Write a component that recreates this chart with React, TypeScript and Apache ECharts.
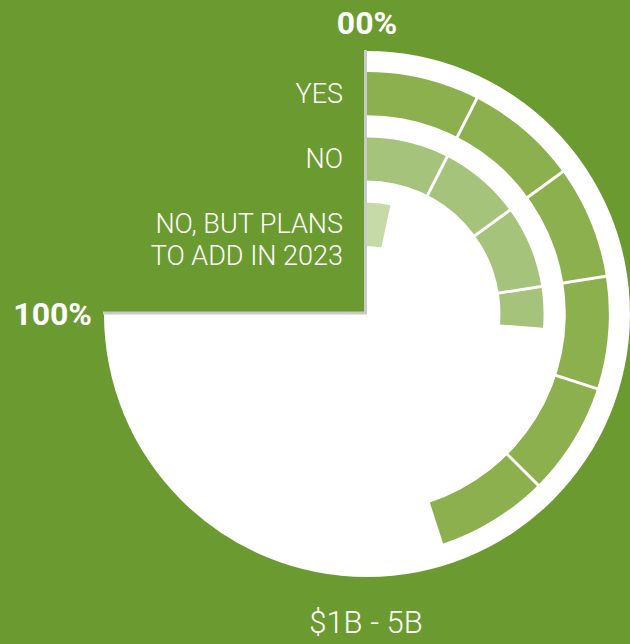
import React, { useEffect, useRef } from "react";
import * as echarts from "echarts";

// Categories (inner to outer)
const categories = ["NO, BUT PLANS\nTO ADD IN 2023", "NO", "YES"];
const values = [4.5, 35, 60];
const barColors = ["#c5daa6", "#a6c37b", "#8bb04d"];
const chartTitle = "$1B - 5B";
const angleMax = 400 / 3; // 100% sits at 270 degrees

export default function App() {
  const ref = useRef<HTMLDivElement>(null);
  useEffect(() => {
    if (!ref.current) return;
    const chart = echarts.init(ref.current, undefined, { renderer: "svg" });
    const cx = 367;
    const cy = 314;
    const splitColors: string[] = [];
    for (let i = 0; i < 15; i++) {
      splitColors.push(i > 0 && i < 10 ? "#ffffff" : "rgba(0,0,0,0)");
    }
    chart.setOption({
      animation: false,
      backgroundColor: "#6b9b30",
      textStyle: { fontFamily: "Roboto" },
      title: {
        text: chartTitle,
        left: 366,
        top: 604,
        padding: 0,
        textAlign: "center",
        textStyle: { color: "#ffffff", fontSize: 31, lineHeight: 36, fontWeight: 300, fontFamily: "Roboto" },
      },
      polar: { center: [cx, cy], radius: [57, 253] },
      angleAxis: {
        type: "value",
        min: 0,
        max: angleMax,
        interval: 10,
        startAngle: 90,
        clockwise: true,
        z: 5,
        axisLine: { show: false },
        axisTick: { show: false },
        splitLine: { show: true, lineStyle: { color: splitColors, width: 3 } },
        axisLabel: {
          margin: 22,
          color: "#ffffff",
          fontSize: 32,
          fontWeight: "bold",
          fontFamily: "Roboto",
          formatter: (v: number) => (v === 0 ? "00%" : v === 100 ? "100%" : ""),
        },
      },
      radiusAxis: {
        type: "category",
        data: categories,
        axisLine: { show: false },
        axisTick: { show: false },
        splitLine: { show: false },
        axisLabel: {
          interval: 0,
          hideOverlap: false,
          margin: 24,
          color: "#ffffff",
          fontSize: 27,
          fontWeight: 300,
          fontFamily: "Roboto",
          lineHeight: 32,
          align: "right",
          formatter: (v: string) => (v.indexOf("\n") >= 0 ? "\n" + v : v),
        },
        z: 6,
      },
      graphic: [
        { type: "line", shape: { x1: 365.5, y1: 50, x2: 365.5, y2: cy }, style: { stroke: "#c9c9c9", lineWidth: 3 }, z: 10 },
        { type: "line", shape: { x1: 103, y1: cy - 1, x2: 367, y2: cy - 1 }, style: { stroke: "#c9c9c9", lineWidth: 3 }, z: 10 },
      ],
      series: [
        {
          type: "pie",
          center: [cx, cy],
          radius: [0, 263],
          startAngle: 90,
          clockwise: true,
          silent: true,
          label: { show: false },
          labelLine: { show: false },
          emphasis: { disabled: true },
          itemStyle: { borderWidth: 0 },
          z: 1,
          data: [
            { value: 100, itemStyle: { color: "#ffffff" } },
            { value: angleMax - 100, itemStyle: { color: "rgba(0,0,0,0)" } },
          ],
        },
        {
          type: "bar",
          coordinateSystem: "polar",
          barWidth: "66%",
          z: 2,
          silent: true,
          data: values.map((v, i) => ({ value: v, itemStyle: { color: barColors[i] } })),
        },
      ],
    });
    return () => chart.dispose();
  }, []);
  return (
    <div
      ref={ref}
      style={{ position: "absolute", left: 0, top: 0, width: 630, height: 644 }}
    />
  );
}
